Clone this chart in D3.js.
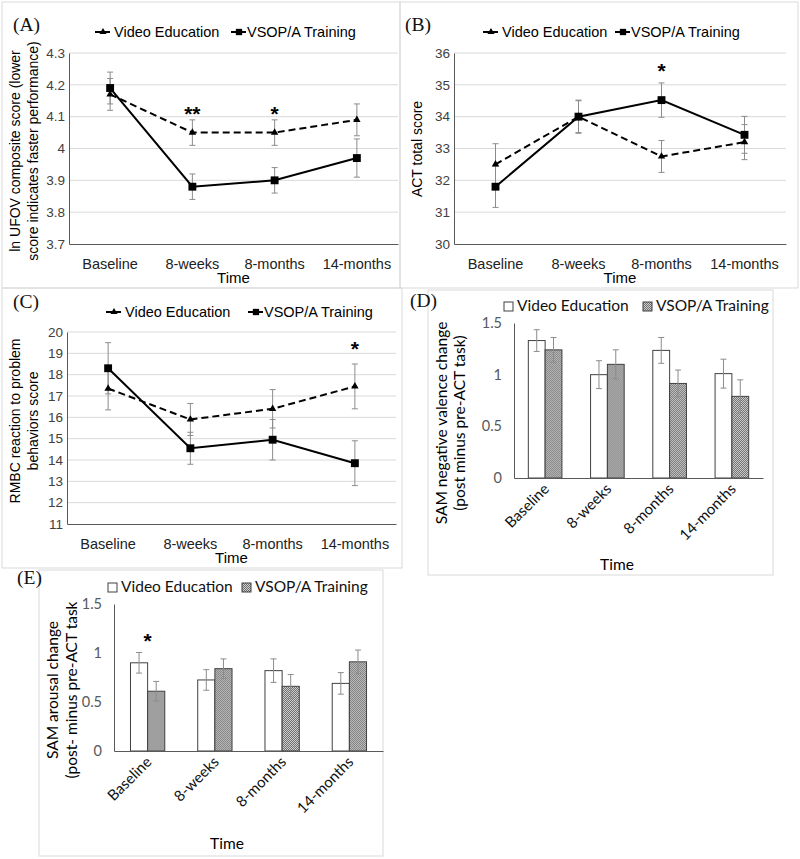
<!DOCTYPE html>
<html>
<head>
<meta charset="utf-8">
<script src="https://cdn.jsdelivr.net/npm/d3@7"></script>
<style>
  body { margin: 0; background: #fff; }
  svg { display: block; }
</style>
</head>
<body>
<div id="chart"></div>
<script>
// Time points shared by every panel
const timePoints = ["Baseline", "8-weeks", "8-months", "14-months"];
const groups = ["Video Education", "VSOP/A Training"];

// (A) ln UFOV composite score
const ufovVideo = [4.17, 4.05, 4.05, 4.09];
const ufovVideoErr = [0.05, 0.04, 0.04, 0.05];
const ufovVsop = [4.19, 3.88, 3.90, 3.97];
const ufovVsopErr = [0.05, 0.04, 0.04, 0.06];
const ufovTicks = [3.7, 3.8, 3.9, 4, 4.1, 4.2, 4.3];
const ufovStars = [{ t: "8-weeks", v: 4.12, s: "**" }, { t: "8-months", v: 4.12, s: "*" }];

// (B) ACT total score
const actVideo = [32.5, 34.0, 32.75, 33.2];
const actVideoErr = [0.65, 0.5, 0.5, 0.55];
const actVsop = [31.8, 34.0, 34.52, 33.43];
const actVsopErr = [0.65, 0.52, 0.54, 0.58];
const actTicks = [30, 31, 32, 33, 34, 35, 36];
const actStars = [{ t: "8-months", v: 35.55, s: "*" }];

// (C) RMBC reaction to problem behaviors
const rmbcVideo = [17.35, 15.9, 16.4, 17.45];
const rmbcVideoErr = [1.0, 0.75, 0.9, 1.05];
const rmbcVsop = [18.3, 14.55, 14.95, 13.85];
const rmbcVsopErr = [1.2, 0.75, 0.95, 1.05];
const rmbcTicks = [11, 12, 13, 14, 15, 16, 17, 18, 19, 20];
const rmbcStars = [{ t: "14-months", v: 19.4, s: "*" }];

// (D) SAM negative valence change
const valenceVideo = [1.33, 1.0, 1.235, 1.01];
const valenceVideoErr = [0.105, 0.135, 0.125, 0.14];
const valenceVsop = [1.24, 1.10, 0.915, 0.79];
const valenceVsopErr = [0.12, 0.14, 0.13, 0.16];
const samTicks = [0, 0.5, 1, 1.5];

// (E) SAM arousal change
const arousalVideo = [0.90, 0.725, 0.82, 0.69];
const arousalVideoErr = [0.105, 0.105, 0.12, 0.11];
const arousalVsop = [0.61, 0.84, 0.66, 0.91];
const arousalVsopErr = [0.10, 0.10, 0.12, 0.12];
const arousalStars = [{ t: "Baseline", v: 1.16, s: "*" }];

const W = 800, H = 859;
const svg = d3.select("#chart").append("svg").attr("width", W).attr("height", H);

const lineFont = "'Liberation Sans', Arial, sans-serif";
const barFont = "Lato, 'Liberation Sans', sans-serif";
const serif = "'Liberation Serif', 'Times New Roman', serif";

// Hatched fill used by the VSOP/A bars
const defs = svg.append("defs");
const pat = defs.append("pattern").attr("id", "hatch")
    .attr("width", 2).attr("height", 2).attr("patternUnits", "userSpaceOnUse");
pat.append("rect").attr("width", 2).attr("height", 2).attr("fill", "#d0d0d0");
pat.append("rect").attr("width", 1).attr("height", 1).attr("fill", "#6e6e6e");
pat.append("rect").attr("x", 1).attr("y", 1).attr("width", 1).attr("height", 1).attr("fill", "#6e6e6e");

// Panel frames
const frames = [
    [2, 2, 398, 286], [400, 2, 398, 286], [2, 288, 400, 280],
    [428, 290, 345, 285], [39, 570, 344, 286]
];
frames.forEach(f => svg.append("rect")
    .attr("x", f[0]).attr("y", f[1]).attr("width", f[2]).attr("height", f[3])
    .attr("fill", "none").attr("stroke", "#d9d9d9").attr("stroke-width", 1));

function panelLetter(txt, x, y) {
    svg.append("text").attr("x", x).attr("y", y).text(txt)
        .attr("font-family", serif).attr("font-size", 19.5).attr("fill", "#111");
}

function linePanel(o) {
    const x = d3.scaleBand().domain(timePoints).range([o.left, o.right]);
    const y = d3.scaleLinear().domain(o.domain).range([o.bottom, o.top]);
    const g = svg.append("g");
    const cx = t => x(t) + x.bandwidth() / 2;

    // gridlines
    g.append("g").selectAll("line").data(o.ticks.slice(1)).join("line")
        .attr("x1", o.left).attr("x2", o.right)
        .attr("y1", d => y(d)).attr("y2", d => y(d))
        .attr("stroke", "#d9d9d9");

    // y axis
    const ya = g.append("g").attr("transform", `translate(${o.left},0)`)
        .call(d3.axisLeft(y).tickValues(o.ticks).tickSize(0).tickPadding(4).tickFormat(d3.format("")));
    ya.select(".domain").attr("stroke", "#595959");
    ya.selectAll("text").attr("font-family", lineFont).attr("font-size", 13.5).attr("fill", "#404040");

    // x axis
    const xa = g.append("g").attr("transform", `translate(0,${o.bottom})`)
        .call(d3.axisBottom(x).tickSize(0).tickPadding(15));
    xa.select(".domain").attr("stroke", "#595959");
    xa.selectAll("text").attr("font-family", lineFont).attr("font-size", 14.5).attr("fill", "#222");

    const series = [
        { vals: o.video, err: o.videoErr, dash: "7,4", shape: d3.symbolTriangle, size: 24 },
        { vals: o.vsop, err: o.vsopErr, dash: null, shape: d3.symbolSquare, size: 62 }
    ];

    // error bars
    series.forEach(s => {
        const eb = g.append("g").attr("stroke", "#8c8c8c").attr("stroke-width", 1);
        timePoints.forEach((t, i) => {
            const hi = y(s.vals[i] + s.err[i]), lo = y(s.vals[i] - s.err[i]);
            eb.append("line").attr("x1", cx(t)).attr("x2", cx(t)).attr("y1", hi).attr("y2", lo);
            eb.append("line").attr("x1", cx(t) - 3).attr("x2", cx(t) + 3).attr("y1", hi).attr("y2", hi);
            eb.append("line").attr("x1", cx(t) - 3).attr("x2", cx(t) + 3).attr("y1", lo).attr("y2", lo);
        });
    });

    // lines + markers
    series.forEach(s => {
        const line = d3.line().x((d, i) => cx(timePoints[i])).y(d => y(d));
        g.append("path").datum(s.vals).attr("d", line)
            .attr("fill", "none").attr("stroke", "#000").attr("stroke-width", 2)
            .attr("stroke-dasharray", s.dash);
        g.selectAll(null).data(s.vals).join("path")
            .attr("d", d3.symbol(s.shape, s.size))
            .attr("transform", (d, i) => `translate(${cx(timePoints[i])},${y(d)})`)
            .attr("fill", "#000");
    });

    // significance stars
    o.stars.forEach(st => g.append("text").attr("x", cx(st.t)).attr("y", y(st.v) + 11)
        .attr("text-anchor", "middle").attr("font-family", lineFont).attr("font-size", 21)
        .attr("font-weight", "bold").text(st.s));

    // legend
    const lg = g.append("g").attr("font-family", lineFont).attr("font-size", 14.5);
    lg.append("line").attr("x1", o.leg[0]).attr("x2", o.leg[0] + 18).attr("y1", o.legY).attr("y2", o.legY)
        .attr("stroke", "#000").attr("stroke-width", 2).attr("stroke-dasharray", "6,3");
    lg.append("path").attr("d", d3.symbol(d3.symbolTriangle, 22))
        .attr("transform", `translate(${o.leg[0] + 8},${o.legY})`);
    lg.append("text").attr("x", o.leg[0] + 19).attr("y", o.legY + 5).text(groups[0]);
    lg.append("line").attr("x1", o.leg[1]).attr("x2", o.leg[1] + 15).attr("y1", o.legY).attr("y2", o.legY)
        .attr("stroke", "#000").attr("stroke-width", 2);
    lg.append("path").attr("d", d3.symbol(d3.symbolSquare, 40))
        .attr("transform", `translate(${o.leg[1] + 8},${o.legY})`);
    lg.append("text").attr("x", o.leg[1] + 16).attr("y", o.legY + 5).text(groups[1]);

    // axis titles
    const cxp = (o.left + o.right) / 2;
    g.append("text").attr("x", cxp).attr("y", o.bottom + 39).attr("text-anchor", "middle")
        .attr("font-family", lineFont).attr("font-size", 15).text("Time");
    o.yLabel.forEach((l, i) => g.append("text")
        .attr("transform", `translate(${o.yLabelX[i]},${o.yLabelY}) rotate(-90)`)
        .attr("text-anchor", "middle").attr("font-family", lineFont).attr("font-size", 14)
        .text(l));
}

function barPanel(o) {
    const x0 = d3.scaleBand().domain(timePoints).range([o.left, o.right])
        .paddingInner(o.pad).paddingOuter(o.pad / 2);
    const x1 = d3.scaleBand().domain(groups).range([0, x0.bandwidth()]);
    const y = d3.scaleLinear().domain([0, 1.5]).range([o.zero, o.top]);
    const g = svg.append("g");

    const rows = timePoints.map((t, i) => ({ t,
        vals: [{ k: groups[0], v: o.video[i], e: o.videoErr[i] }, { k: groups[1], v: o.vsop[i], e: o.vsopErr[i] }] }));

    const cg = g.selectAll(null).data(rows).join("g").attr("transform", d => `translate(${x0(d.t)},0)`);
    cg.selectAll("rect").data(d => d.vals).join("rect")
        .attr("x", d => x1(d.k)).attr("width", x1.bandwidth())
        .attr("y", d => y(d.v)).attr("height", d => y(0) - y(d.v))
        .attr("fill", d => d.k === groups[0] ? "#fff" : "url(#hatch)")
        .attr("stroke", "#404040").attr("stroke-width", 1);
    // error bars
    cg.selectAll("g.eb").data(d => d.vals).join("g").attr("class", "eb")
        .attr("stroke", "#8c8c8c").attr("stroke-width", 1)
        .each(function (d) {
            const c = x1(d.k) + x1.bandwidth() / 2, hi = y(d.v + d.e), lo = y(d.v - d.e);
            const s = d3.select(this);
            s.append("line").attr("x1", c).attr("x2", c).attr("y1", hi).attr("y2", lo);
            s.append("line").attr("x1", c - 3).attr("x2", c + 3).attr("y1", hi).attr("y2", hi);
            s.append("line").attr("x1", c - 3).attr("x2", c + 3).attr("y1", lo).attr("y2", lo);
        });

    // axes
    const ya = g.append("g").attr("transform", `translate(${o.left},0)`)
        .call(d3.axisLeft(y).tickValues(samTicks).tickSize(0).tickPadding(12).tickFormat(d3.format("")));
    ya.select(".domain").attr("stroke", "#595959");
    ya.selectAll("text").attr("font-family", barFont).attr("font-size", 14.5).attr("fill", "#595959");
    const xa = g.append("g").attr("transform", `translate(0,${o.zero})`)
        .call(d3.axisBottom(x0).tickSize(0).tickPadding(0));
    xa.select(".domain").attr("stroke", "#595959");
    xa.selectAll("text").attr("font-family", barFont).attr("font-size", 15).attr("fill", "#111")
        .attr("text-anchor", "end").attr("dy", null)
        .attr("transform", `translate(5,12) rotate(-45)`);

    o.stars.forEach(st => g.append("text").attr("x", x0(st.t) + x0.bandwidth() / 2).attr("y", y(st.v) + 11)
        .attr("text-anchor", "middle").attr("font-family", lineFont).attr("font-size", 21)
        .attr("font-weight", "bold").text(st.s));

    // legend
    const lg = g.append("g").attr("font-family", barFont).attr("font-size", 15.5).attr("fill", "#111");
    lg.append("rect").attr("x", o.leg[0]).attr("y", o.legY - 9).attr("width", 9).attr("height", 9)
        .attr("fill", "#fff").attr("stroke", "#404040");
    lg.append("text").attr("x", o.leg[0] + 13).attr("y", o.legY).text(groups[0]);
    lg.append("rect").attr("x", o.leg[1]).attr("y", o.legY - 9).attr("width", 9).attr("height", 9)
        .attr("fill", "url(#hatch)").attr("stroke", "#404040");
    lg.append("text").attr("x", o.leg[1] + 13).attr("y", o.legY).text(groups[1]);

    g.append("text").attr("x", o.timeX).attr("y", o.timeY).attr("text-anchor", "middle")
        .attr("font-family", barFont).attr("font-size", 15.5).text("Time");
    o.yLabel.forEach((l, i) => g.append("text")
        .attr("transform", `translate(${o.yLabelX[i]},${o.yLabelY}) rotate(-90)`)
        .attr("text-anchor", "middle").attr("font-family", barFont).attr("font-size", 15.5)
        .text(l));
}

panelLetter("(A)", 13, 31);
linePanel({
    left: 69, right: 398, top: 53, bottom: 244, domain: [3.7, 4.3], ticks: ufovTicks,
    video: ufovVideo, videoErr: ufovVideoErr, vsop: ufovVsop, vsopErr: ufovVsopErr, stars: ufovStars,
    leg: [95, 231], legY: 32,
    yLabel: ["ln UFOV composite score (lower", "score indicates faster performance)"],
    yLabelX: [20, 38], yLabelY: 151
});

panelLetter("(B)", 405, 31);
linePanel({
    left: 454, right: 786, top: 53, bottom: 244, domain: [30, 36], ticks: actTicks,
    video: actVideo, videoErr: actVideoErr, vsop: actVsop, vsopErr: actVsopErr, stars: actStars,
    leg: [483, 615], legY: 32,
    yLabel: ["ACT total score"], yLabelX: [422], yLabelY: 149
});

panelLetter("(C)", 13, 308);
linePanel({
    left: 67, right: 396, top: 332, bottom: 524, domain: [11, 20], ticks: rmbcTicks,
    video: rmbcVideo, videoErr: rmbcVideoErr, vsop: rmbcVsop, vsopErr: rmbcVsopErr, stars: rmbcStars,
    leg: [106, 248], legY: 312,
    yLabel: ["RMBC reaction to problem", "behaviors score"], yLabelX: [20, 38], yLabelY: 421
});

panelLetter("(D)", 410, 307);
barPanel({
    left: 514, right: 763, zero: 478, top: 323, pad: 0.46,
    video: valenceVideo, videoErr: valenceVideoErr, vsop: valenceVsop, vsopErr: valenceVsopErr, stars: [],
    leg: [504, 643], legY: 311, timeX: 617, timeY: 570,
    yLabel: ["SAM negative valence change", "(post minus pre-ACT task)"], yLabelX: [447, 465], yLabelY: 423
});

panelLetter("(E)", 17, 584);
barPanel({
    left: 114, right: 383, zero: 751, top: 604, pad: 0.49,
    video: arousalVideo, videoErr: arousalVideoErr, vsop: arousalVsop, vsopErr: arousalVsopErr, stars: arousalStars,
    leg: [108, 242], legY: 592, timeX: 227, timeY: 849,
    yLabel: ["SAM arousal change", "(post- minus pre-ACT task"], yLabelX: [58, 77], yLabelY: 690
});
</script>
</body>
</html>
